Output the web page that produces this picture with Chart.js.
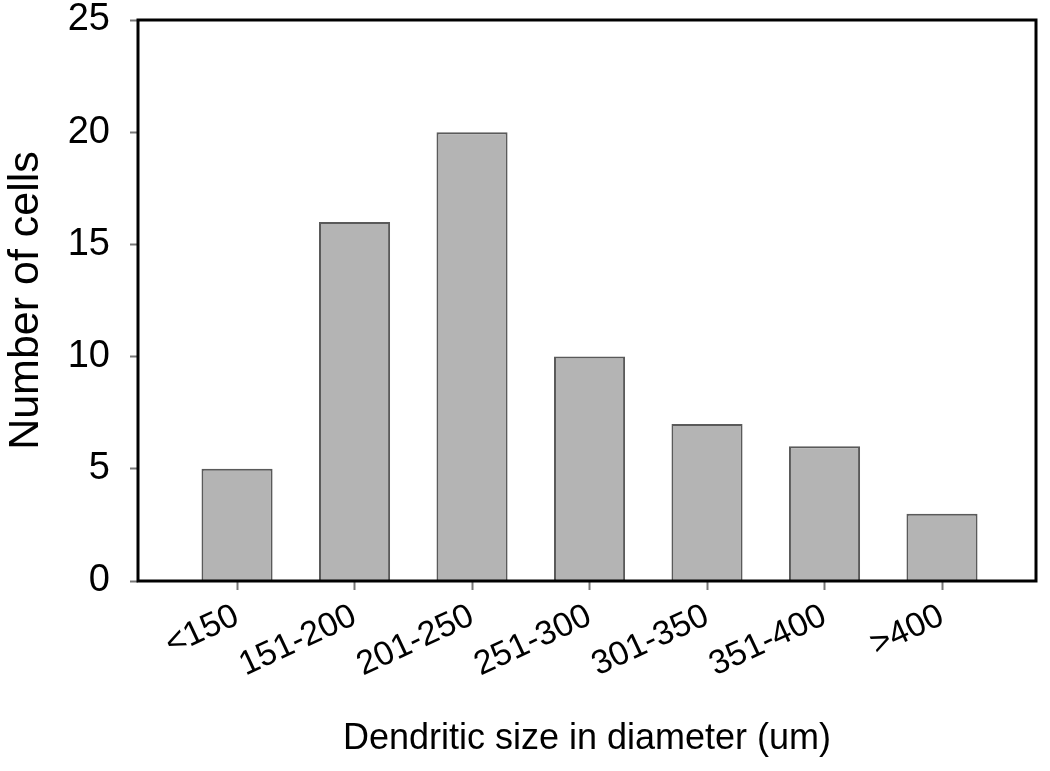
<!DOCTYPE html>
<html>
<head>
<meta charset="utf-8">
<script src="https://cdn.jsdelivr.net/npm/chart.js@4"></script>
<style>
  html, body { margin: 0; padding: 0; background: #ffffff; }
  #wrap { width: 1050px; height: 771px; }
</style>
</head>
<body>
<div id="wrap"><canvas id="myChart"></canvas></div>
<script>
let sizeBins = ["<150", "151-200", "201-250", "251-300", "301-350", "351-400", ">400"];
let cellCounts = [5, 16, 20, 10, 7, 6, 3];
let yTicks = [0, 5, 10, 15, 20, 25];

let points = [];
for (let i = 0; i < sizeBins.length; i++) {
    points.push({ x: i, y: cellCounts[i] });
}

// black frame round the plot area
let frame = {
    id: "frame",
    afterDatasetsDraw(chart) {
        let a = chart.chartArea;
        let ctx = chart.ctx;
        ctx.save();
        ctx.strokeStyle = "#000";
        ctx.lineWidth = 3;
        ctx.strokeRect(a.left, a.top, a.right - a.left, a.bottom - a.top);
        ctx.restore();
    }
};

let font = "'Liberation Sans', Arial, sans-serif";

let myChart = new Chart(document.getElementById("myChart"), {
    type: "bar",
    data: {
        datasets: [{
            data: points,
            backgroundColor: "#b4b4b4",
            borderColor: "#5a5a5a",
            borderWidth: 2,
            barPercentage: 0.605,
            categoryPercentage: 1
        }]
    },
    options: {
        responsive: true,
        maintainAspectRatio: false,
        animation: false,
        layout: { padding: { top: 0, right: 14, left: 0, bottom: 0 } },
        plugins: {
            legend: { display: false },
            tooltip: { enabled: false }
        },
        scales: {
            x: {
                type: "linear",
                offset: false,
                min: -0.843,
                max: 6.80,
                afterBuildTicks: function(scale) {
                    scale.ticks = sizeBins.map((b, i) => ({ value: i }));
                },
                afterFit: function(scale) { scale.height = 190; },
                grid: {
                    offset: false,
                    drawOnChartArea: false,
                    tickLength: 9,
                    tickWidth: 2,
                    tickColor: "#777"
                },
                border: { display: false },
                ticks: {
                    autoSkip: false,
                    minRotation: 25,
                    maxRotation: 25,
                    padding: 6,
                    color: "#000",
                    font: { family: font, size: 34 },
                    callback: function(v) { return sizeBins[v]; }
                },
                title: {
                    display: true,
                    text: "Dendritic size in diameter (um)",
                    color: "#000",
                    font: { family: font, size: 36 },
                    padding: { top: 4, bottom: 10 }
                }
            },
            y: {
                min: 0,
                max: 25,
                afterBuildTicks: function(scale) {
                    scale.ticks = yTicks.map(v => ({ value: v }));
                },
                afterFit: function(scale) {
                    scale.width = 138;
                    scale.paddingTop = 20;
                    scale.paddingBottom = 0;
                },
                grid: {
                    drawOnChartArea: false,
                    tickLength: 8,
                    tickWidth: 2,
                    tickColor: "#777"
                },
                border: { display: false },
                ticks: {
                    padding: 20,
                    color: "#000",
                    font: { family: font, size: 38 }
                },
                title: {
                    display: true,
                    text: "Number of cells",
                    color: "#000",
                    font: { family: font, size: 43 },
                    padding: { top: 0, bottom: 0 }
                }
            }
        }
    },
    plugins: [frame]
});
</script>
</body>
</html>
